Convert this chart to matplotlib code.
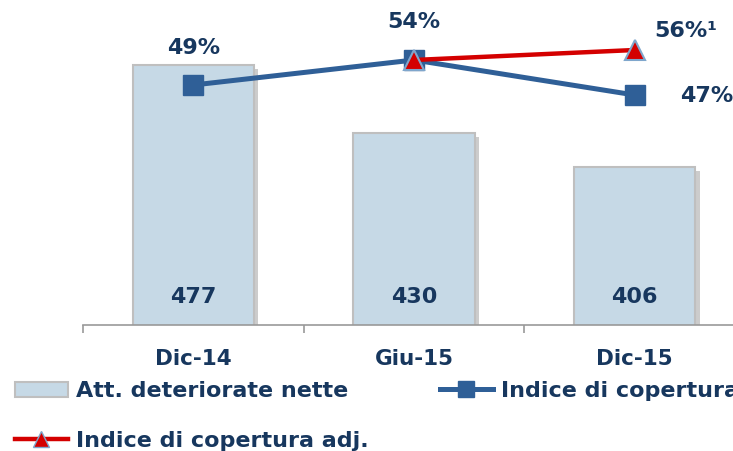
import matplotlib
matplotlib.use('Agg')
import matplotlib.pyplot as plt
import matplotlib.patheffects as pe
from matplotlib.lines import Line2D
from matplotlib.patches import Patch

categories = ['Dic-14', 'Giu-15', 'Dic-15']
att_deteriorate = [477, 430, 406]
copertura = [49, 54, 47]
adj_categories = ['Giu-15', 'Dic-15']
copertura_adj = [54, 56]

navy = '#17375e'
bar_col = '#c6d9e6'
blue = '#2f5f97'
red = '#d40000'

plt.rcParams['font.family'] = ['DejaVu Sans']
plt.rcParams['font.weight'] = 'bold'

fig = plt.figure(figsize=(7.33, 4.51), dpi=100)
ax = fig.add_axes([83/733, 1-325/451, 662/733, 325/451])
x = list(range(len(categories)))

bars = ax.bar(x, att_deteriorate, width=0.55, color=bar_col, edgecolor='#bfbfbf', linewidth=1.5,
              zorder=2)
for b in bars:
    b.set_path_effects([pe.SimplePatchShadow(offset=(3, -3), shadow_rgbFace='#808080', alpha=0.4),
                        pe.Normal()])
ax.set_ylim(297, 521.6)
ax.set_xlim(-0.5, 2.5)
for i, v in enumerate(att_deteriorate):
    ax.annotate(str(v), xy=(i, 297), xytext=(0, 20), textcoords='offset points',
                ha='center', va='center', fontsize=16, fontweight='bold', color=navy)

for s in ['top', 'right', 'left']:
    ax.spines[s].set_visible(False)
ax.spines['bottom'].set_color('#999999')
ax.spines['bottom'].set_linewidth(1.2)
ax.set_yticks([])
ax.set_xticks(x)
ax.set_xticklabels(categories, fontsize=15.5, fontweight='bold', color=navy)
ax.tick_params(axis='x', which='major', length=0, pad=17)
ax.set_xticks([-0.5, 0.5, 1.5, 2.5], minor=True)
ax.tick_params(axis='x', which='minor', length=6, width=1.2, color='#999999', direction='out')

ax2 = ax.twinx()
ax2.set_ylim(1, 66)
ax2.axis('off')
ax2.plot(x, copertura, color=blue, linewidth=3.6, marker='s', markersize=14,
         markerfacecolor=blue, markeredgecolor=blue, zorder=3)
xa = [categories.index(c) for c in adj_categories]
ax2.plot(xa, copertura_adj, color=red, linewidth=3.2, marker='^', markersize=14,
         markerfacecolor=red, markeredgecolor='#7fa6cc', markeredgewidth=1.5, zorder=4)

for i in range(2):
    ax2.annotate(f'{copertura[i]}%', xy=(i, copertura[i]), xytext=(0, 27), textcoords='offset points',
                 ha='center', va='center', fontsize=16, fontweight='bold', color=navy)
ax2.annotate(f'{copertura[2]}%', xy=(2, copertura[2]), xytext=(52, -1), textcoords='offset points',
             ha='center', va='center', fontsize=16, fontweight='bold', color=navy)
ax2.annotate(f'{copertura_adj[-1]}%¹', xy=(xa[-1], copertura_adj[-1]), xytext=(14, 14),
             textcoords='offset points', ha='left', va='center', fontsize=16, fontweight='bold',
             color=navy)

handles = [Patch(facecolor=bar_col, edgecolor='#bfbfbf', linewidth=1.5),
           Line2D([0], [0], color=red, linewidth=3.2, marker='^', markersize=11,
                  markerfacecolor=red, markeredgecolor='#7fa6cc'),
           Line2D([0], [0], color=blue, linewidth=3.6, marker='s', markersize=11,
                  markerfacecolor=blue, markeredgecolor=blue)]
labels = ['Att. deteriorate nette', 'Indice di copertura adj.', 'Indice di copertura']
leg = fig.legend(handles, labels, ncol=2, loc='upper left', bbox_to_anchor=(0.02, 0.155),
                 frameon=False, borderpad=0, borderaxespad=0, handlelength=2.4, handletextpad=0.35,
                 columnspacing=3.2, labelspacing=1.33, prop={'size': 16, 'weight': 'bold'})
for t in leg.get_texts():
    t.set_color(navy)

fig.savefig('out.png', dpi=100)
